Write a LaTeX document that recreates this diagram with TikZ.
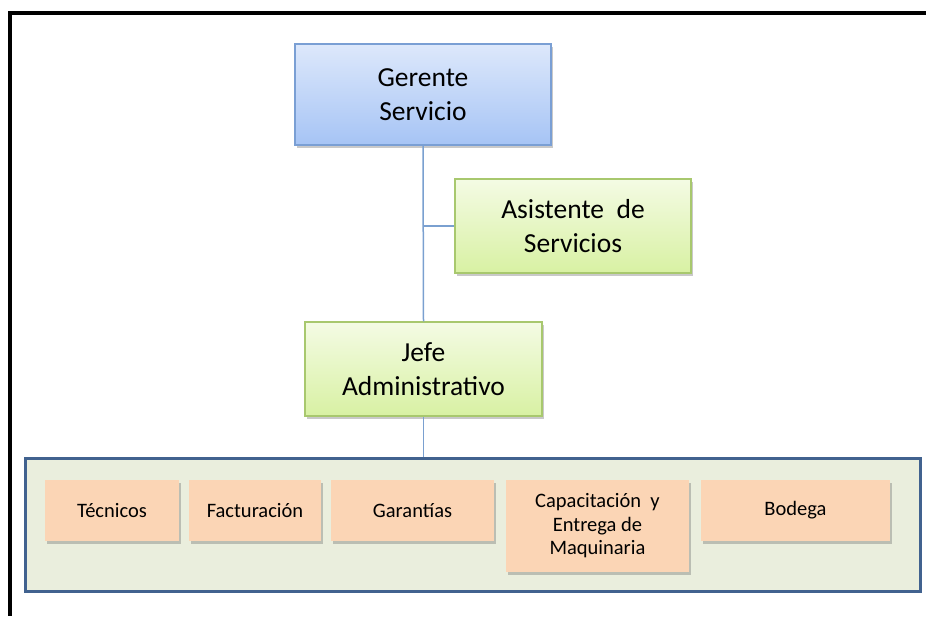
\documentclass[tikz,border=0pt]{standalone}
\usepackage{fontspec}
\setmainfont{Carlito}
\usetikzlibrary{shadows}
\definecolor{blueTop}{HTML}{DDE8FB}
\definecolor{blueBot}{HTML}{A6C4F5}
\definecolor{blueEdge}{HTML}{7A9FD4}
\definecolor{greenTop}{HTML}{F4FBE4}
\definecolor{greenBot}{HTML}{D8F1A3}
\definecolor{greenEdge}{HTML}{A8C86E}
\definecolor{lineBlue}{HTML}{7AA0D0}
\definecolor{contFill}{HTML}{EAEEDD}
\definecolor{contEdge}{HTML}{41628F}
\definecolor{peach}{HTML}{FBD5B5}
\tikzset{
  mainbox/.style={rectangle, inner sep=0pt, align=center, font=\fontsize{27.5}{34}\selectfont,
    drop shadow={shadow xshift=2pt, shadow yshift=-3pt, opacity=0.35, fill=black!60}},
  bluebox/.style={mainbox, draw=blueEdge, line width=1.2pt, top color=blueTop, bottom color=blueBot},
  greenbox/.style={mainbox, draw=greenEdge, line width=1.2pt, top color=greenTop, bottom color=greenBot},
  unitbox/.style={rectangle, inner sep=0pt, align=center, fill=peach, minimum height=61pt,
    font=\fontsize{20.5}{23.5}\selectfont,
    drop shadow={shadow xshift=2pt, shadow yshift=-3pt, opacity=0.35, fill=black!60}},
  conn/.style={draw=lineBlue, line width=1.5pt},
}
\begin{document}
\begin{tikzpicture}[x=1pt, y=-1pt]
\useasboundingbox (0,0) rectangle (926,616);
\fill[white] (0,0) rectangle (926,616);
% outer frame
\draw[black, line width=4pt] (926,13) -- (10,13) -- (10,616);
% container
\node[rectangle, draw=contEdge, line width=3pt, fill=contFill, minimum width=895pt, minimum height=133pt, inner sep=0pt] (C) at (472.5,524.5) {};
% main boxes
\node[bluebox, minimum width=256pt, minimum height=101pt] (G) at (423,94.5) {Gerente\\Servicio};
\node[greenbox, minimum width=236pt, minimum height=94pt] (A) at (573,226) {Asistente~ de\\Servicios};
\node[greenbox, minimum width=237pt, minimum height=94pt] (J) at (423.5,369) {Jefe\\Administrativo};
% connectors
\draw[conn] (G.south) -- (J.north);
\draw[conn] (A.west) -- (A.west -| G.south);
\draw[conn] (J.south) -- (J.south |- C.north);
% units
\node[unitbox, minimum width=134pt] (T) at (112,510.5) {Técnicos};
\node[unitbox, minimum width=132pt] (F) at (255,510.5) {Facturación};
\node[unitbox, minimum width=163pt] (Ga) at (412.5,510.5) {Garantías};
\node[unitbox, minimum width=183pt, minimum height=92pt] (Ca) at (597.5,526) {Capacitación~ y\\Entrega de\\Maquinaria};
\node[unitbox, minimum width=189pt] (B) at (795.5,510.5) {Bodega};
\end{tikzpicture}
\end{document}
